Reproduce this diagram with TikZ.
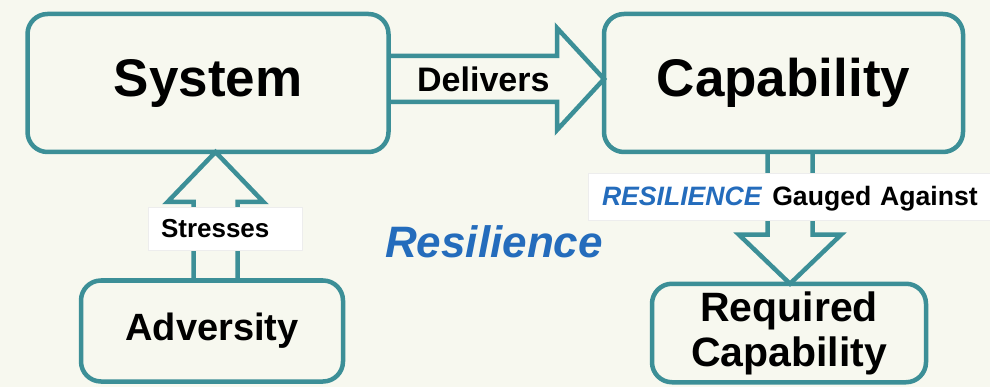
\documentclass[tikz,border=0pt]{standalone}
\usepackage{fontspec}
\setmainfont{Liberation Sans}
\usepackage{tikz}
\usetikzlibrary{calc}
\definecolor{edgeteal}{RGB}{60,143,151}
\definecolor{paper}{RGB}{247,248,239}
\definecolor{resblue}{RGB}{36,108,188}
\tikzset{box/.style={shape=rectangle, draw=edgeteal, fill=paper, line width=4.5pt,
    rounded corners=20pt, inner sep=0pt, outer sep=0pt, align=center}}
\tikzset{fat/.style={draw=edgeteal, line width=4.5pt, line join=miter}}
\tikzset{tag/.style={fill=white, draw=black!7, line width=0.8pt, align=left,
    inner ysep=0pt, outer sep=0pt, text depth=0pt}}

\begin{document}
\begin{tikzpicture}[x=1pt, y=-1pt]
      \useasboundingbox[fill=paper] (0,0) rectangle (990,387);
      \node[box, minimum width=361pt, minimum height=138pt,
        font=\bfseries\fontsize{53}{53}\selectfont] (system) at (208,83) {System};
      \node[box, minimum width=359pt, minimum height=138pt,
        font=\bfseries\fontsize{53}{53}\selectfont] (capability) at (783.5,83) {Capability};
      \node[box, minimum width=262pt, minimum height=101pt,
        font=\bfseries\fontsize{38}{38}\selectfont] (adversity) at (212,331) {Adversity};
      \node[box, minimum width=274pt, minimum height=98.5pt,
        font=\bfseries\fontsize{41}{45}\selectfont] (required) at (789,333) {Required\\Capability};
      % system delivers capability
      \coordinate (d0) at ($(system.east)+(0,-4)$);
      \coordinate (d1) at ($(capability.west)+(0,-4)$);
      \draw[fat] ($(d0)+(0,-23)$) -- ($(d1)+(-47,-23)$) -- ($(d1)+(-47,-51)$) -- (d1)
        -- ($(d1)+(-47,51)$) -- ($(d1)+(-47,23)$) -- ($(d0)+(0,23)$);
      \node[font=\bfseries\fontsize{34}{34}\selectfont] (delivers) at ($(d0)!0.44!(d1)$) {Delivers};
      % adversity stresses system
      \coordinate (s1) at ($(system.south)+(7.5,0)$);
      \coordinate (s0) at (s1 |- adversity.north);
      \draw[fat] ($(s0)+(-22,0)$) -- ($(s1)+(-22,50)$) -- ($(s1)+(-48,50)$) -- (s1)
        -- ($(s1)+(48,50)$) -- ($(s1)+(22,50)$) -- ($(s0)+(22,0)$);
      \node[tag, text width=128pt, minimum height=43pt, text height=18.6pt, inner xsep=13pt,
        font=\bfseries\fontsize{26}{26}\selectfont] (stresses) at (225,228.5) {Stresses};
      % capability gauged against required capability
      \coordinate (g0) at ($(capability.south)+(6.5,0)$);
      \coordinate (g1) at (g0 |- required.north);
      \draw[fat] ($(g0)+(-22.5,0)$) -- ($(g1)+(-22.5,-49)$) -- ($(g1)+(-51,-49)$) -- (g1)
        -- ($(g1)+(51,-49)$) -- ($(g1)+(22.5,-49)$) -- ($(g0)+(22.5,0)$);
      \node[tag, text width=420pt, minimum height=47pt, text height=19pt, inner xsep=14pt,
        font=\bfseries\fontsize{26.6}{26.6}\selectfont] (gauge) at (812,196.5)
        {{\color{resblue}\itshape RESILIENCE}\hspace{0.4em}Gauged Against};
      \node[text=resblue, font=\bfseries\itshape\fontsize{44}{44}\selectfont] (resilience)
        at (494,242) {Resilience};
    \end{tikzpicture}
\end{document}
